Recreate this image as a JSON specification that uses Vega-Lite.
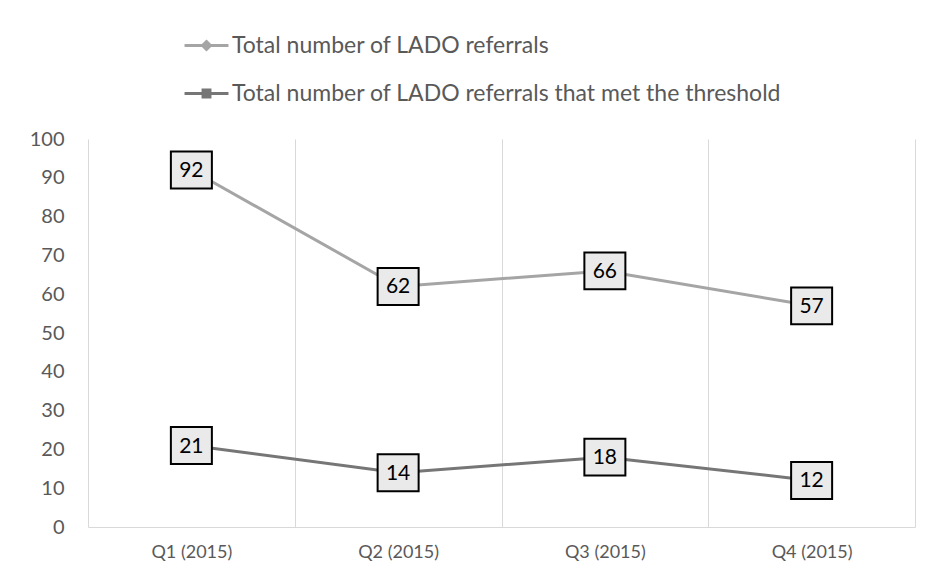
{
  "$schema": "https://vega.github.io/schema/vega-lite/v6.json",
  "autosize": {"type": "none"},
  "width": 827,
  "height": 388,
  "padding": {"left": 88, "top": 139, "right": 15, "bottom": 53},
  "background": "white",
  "config": {
    "view": {"stroke": null},
    "font": "Lato"
  },
  "data": {
    "values": [
      {"quarter": "Q1 (2015)", "series": "Total number of LADO referrals", "value": 92},
      {"quarter": "Q2 (2015)", "series": "Total number of LADO referrals", "value": 62},
      {"quarter": "Q3 (2015)", "series": "Total number of LADO referrals", "value": 66},
      {"quarter": "Q4 (2015)", "series": "Total number of LADO referrals", "value": 57},
      {"quarter": "Q1 (2015)", "series": "Total number of LADO referrals that met the threshold", "value": 21},
      {"quarter": "Q2 (2015)", "series": "Total number of LADO referrals that met the threshold", "value": 14},
      {"quarter": "Q3 (2015)", "series": "Total number of LADO referrals that met the threshold", "value": 18},
      {"quarter": "Q4 (2015)", "series": "Total number of LADO referrals that met the threshold", "value": 12}
    ]
  },
  "encoding": {
    "x": {
      "field": "quarter",
      "type": "ordinal",
      "sort": null,
      "scale": {"type": "band", "paddingInner": 0, "paddingOuter": 0},
      "axis": {
        "title": null,
        "labelAngle": 0,
        "tickBand": "extent",
        "grid": true,
        "gridColor": "#d9d9d9",
        "gridWidth": 1,
        "ticks": false,
        "domainColor": "#d9d9d9",
        "domainWidth": 1,
        "labelColor": "#595959",
        "labelFontSize": 18,
        "labelPadding": 16
      }
    },
    "y": {
      "field": "value",
      "type": "quantitative",
      "scale": {"domain": [0, 100], "nice": false},
      "axis": {
        "title": null,
        "values": [0, 10, 20, 30, 40, 50, 60, 70, 80, 90, 100],
        "grid": false,
        "domain": false,
        "ticks": false,
        "labelColor": "#595959",
        "labelFontSize": 20,
        "labelPadding": 24
      }
    }
  },
  "layer": [
    {
      "mark": {"type": "line", "strokeWidth": 3},
      "encoding": {
        "stroke": {
          "field": "series",
          "type": "nominal",
          "scale": {"range": ["#a5a5a5", "#767676"]},
          "legend": null
        }
      }
    },
    {
      "mark": {"type": "point", "filled": true, "opacity": 1},
      "encoding": {
        "color": {
          "field": "series",
          "type": "nominal",
          "scale": {"range": ["#a5a5a5", "#767676"]},
          "legend": {
            "title": null,
            "orient": "none",
            "legendX": 107,
            "legendY": -105,
            "direction": "vertical",
            "symbolSize": 324,
            "symbolStrokeWidth": 0,
            "labelFontSize": 23,
            "labelColor": "#595959",
            "labelOffset": 14,
            "rowPadding": 24,
            "labelLimit": 700
          }
        },
        "shape": {
          "field": "series",
          "type": "nominal",
          "scale": {"range": [
            "M-2.44,-0.17L2.44,-0.17L2.44,0.17L-2.44,0.17Z M0,-0.67L0.67,0L0,0.67L-0.67,0Z",
            "M-2.44,-0.17L2.44,-0.17L2.44,0.17L-2.44,0.17Z M-0.55,-0.55L0.55,-0.55L0.55,0.55L-0.55,0.55Z"
          ]},
          "legend": {
            "title": null,
            "orient": "none",
            "legendX": 107,
            "legendY": -105,
            "direction": "vertical",
            "symbolSize": 324,
            "symbolStrokeWidth": 0,
            "labelFontSize": 23,
            "labelColor": "#595959",
            "labelOffset": 14,
            "rowPadding": 24,
            "labelLimit": 700
          }
        }
      }
    },
    {
      "mark": {
        "type": "point",
        "shape": "M-1,-0.9L1,-0.9L1,0.9L-1,0.9Z",
        "size": 1681,
        "filled": true,
        "fill": "#eaeaea",
        "stroke": "#000000",
        "strokeWidth": 2,
        "opacity": 1
      }
    },
    {
      "mark": {"type": "text", "fontSize": 21, "color": "#000000", "baseline": "middle", "dy": 1},
      "encoding": {
        "text": {"field": "value", "type": "quantitative"}
      }
    }
  ]
}
